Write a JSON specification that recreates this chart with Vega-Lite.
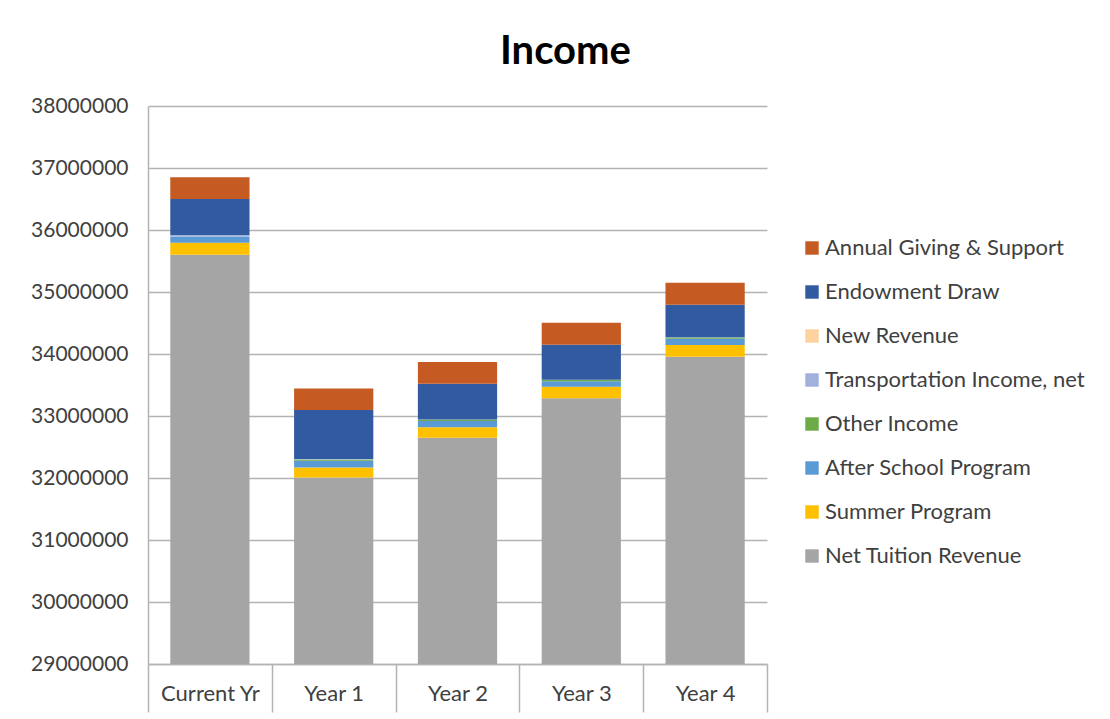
{
  "$schema": "https://vega.github.io/schema/vega-lite/v6.json",
  "autosize": "none",
  "width": 619,
  "height": 558,
  "padding": {"left": 148, "top": 106, "right": 343, "bottom": 55},
  "background": "white",
  "title": {
    "text": "Income",
    "font": "Lato",
    "fontSize": 40,
    "fontWeight": "bold",
    "color": "#000000",
    "anchor": "middle",
    "frame": "group",
    "dx": 108,
    "offset": 23
  },
  "data": {
    "values": [
      {"year": "Current Yr", "series": "Net Tuition Revenue", "o": 1, "value": 35600000},
      {"year": "Current Yr", "series": "Summer Program", "o": 2, "value": 195000},
      {"year": "Current Yr", "series": "After School Program", "o": 3, "value": 100000},
      {"year": "Current Yr", "series": "Other Income", "o": 4, "value": 0},
      {"year": "Current Yr", "series": "Transportation Income, net", "o": 5, "value": 25000},
      {"year": "Current Yr", "series": "New Revenue", "o": 6, "value": 0},
      {"year": "Current Yr", "series": "Endowment Draw", "o": 7, "value": 580000},
      {"year": "Current Yr", "series": "Annual Giving & Support", "o": 8, "value": 350000},
      {"year": "Year 1", "series": "Net Tuition Revenue", "o": 1, "value": 32010000},
      {"year": "Year 1", "series": "Summer Program", "o": 2, "value": 160000},
      {"year": "Year 1", "series": "After School Program", "o": 3, "value": 110000},
      {"year": "Year 1", "series": "Other Income", "o": 4, "value": 20000},
      {"year": "Year 1", "series": "Transportation Income, net", "o": 5, "value": 5000},
      {"year": "Year 1", "series": "New Revenue", "o": 6, "value": 0},
      {"year": "Year 1", "series": "Endowment Draw", "o": 7, "value": 790000},
      {"year": "Year 1", "series": "Annual Giving & Support", "o": 8, "value": 350000},
      {"year": "Year 2", "series": "Net Tuition Revenue", "o": 1, "value": 32650000},
      {"year": "Year 2", "series": "Summer Program", "o": 2, "value": 170000},
      {"year": "Year 2", "series": "After School Program", "o": 3, "value": 100000},
      {"year": "Year 2", "series": "Other Income", "o": 4, "value": 20000},
      {"year": "Year 2", "series": "Transportation Income, net", "o": 5, "value": 5000},
      {"year": "Year 2", "series": "New Revenue", "o": 6, "value": 0},
      {"year": "Year 2", "series": "Endowment Draw", "o": 7, "value": 575000},
      {"year": "Year 2", "series": "Annual Giving & Support", "o": 8, "value": 350000},
      {"year": "Year 3", "series": "Net Tuition Revenue", "o": 1, "value": 33285000},
      {"year": "Year 3", "series": "Summer Program", "o": 2, "value": 185000},
      {"year": "Year 3", "series": "After School Program", "o": 3, "value": 90000},
      {"year": "Year 3", "series": "Other Income", "o": 4, "value": 20000},
      {"year": "Year 3", "series": "Transportation Income, net", "o": 5, "value": 5000},
      {"year": "Year 3", "series": "New Revenue", "o": 6, "value": 0},
      {"year": "Year 3", "series": "Endowment Draw", "o": 7, "value": 565000},
      {"year": "Year 3", "series": "Annual Giving & Support", "o": 8, "value": 355000},
      {"year": "Year 4", "series": "Net Tuition Revenue", "o": 1, "value": 33955000},
      {"year": "Year 4", "series": "Summer Program", "o": 2, "value": 190000},
      {"year": "Year 4", "series": "After School Program", "o": 3, "value": 100000},
      {"year": "Year 4", "series": "Other Income", "o": 4, "value": 20000},
      {"year": "Year 4", "series": "Transportation Income, net", "o": 5, "value": 5000},
      {"year": "Year 4", "series": "New Revenue", "o": 6, "value": 0},
      {"year": "Year 4", "series": "Endowment Draw", "o": 7, "value": 525000},
      {"year": "Year 4", "series": "Annual Giving & Support", "o": 8, "value": 355000}
    ]
  },
  "mark": {"type": "bar", "clip": true, "width": {"band": 0.64}},
  "encoding": {
    "x": {
      "field": "year",
      "type": "nominal",
      "sort": ["Current Yr", "Year 1", "Year 2", "Year 3", "Year 4"],
      "scale": {"paddingInner": 0, "paddingOuter": 0},
      "axis": {
        "title": null,
        "labelAngle": 0,
        "labelFont": "Lato",
        "labelFontSize": 22,
        "labelColor": "#404040",
        "domainColor": "#b3b3b3",
        "domainWidth": 1.5,
        "tickColor": "#b3b3b3",
        "tickWidth": 1.5,
        "tickBand": "extent",
        "tickSize": 48,
        "labelPadding": -29
      }
    },
    "y": {
      "field": "value",
      "type": "quantitative",
      "stack": "zero",
      "scale": {"domain": [29000000, 38000000], "zero": false, "nice": false},
      "axis": {
        "title": null,
        "values": [29000000, 30000000, 31000000, 32000000, 33000000, 34000000, 35000000, 36000000, 37000000, 38000000],
        "format": "d",
        "labelFont": "Lato",
        "labelFontSize": 21,
        "labelColor": "#404040",
        "ticks": false,
        "tickSize": 0,
        "labelPadding": 20,
        "domainColor": "#b3b3b3",
        "domainWidth": 1.5,
        "gridColor": "#b3b3b3",
        "gridWidth": 1.5
      }
    },
    "color": {
      "field": "series",
      "type": "nominal",
      "scale": {
        "domain": ["Annual Giving & Support", "Endowment Draw", "New Revenue", "Transportation Income, net", "Other Income", "After School Program", "Summer Program", "Net Tuition Revenue"],
        "range": ["#c55a22", "#325aa0", "#fdd39f", "#a2b1dc", "#6cab45", "#5a9bd5", "#ffc000", "#a5a5a5"]
      },
      "legend": {
        "title": null,
        "orient": "none",
        "legendX": 653,
        "legendY": 131,
        "symbolType": "square",
        "symbolSize": 180,
        "symbolStrokeWidth": 0,
        "labelFont": "Lato",
        "labelFontSize": 22,
        "labelColor": "#404040",
        "labelOffset": 2,
        "rowPadding": 22,
        "labelLimit": 400
      }
    },
    "order": {"field": "o", "type": "quantitative", "sort": "ascending"}
  },
  "config": {"view": {"stroke": null}}
}
